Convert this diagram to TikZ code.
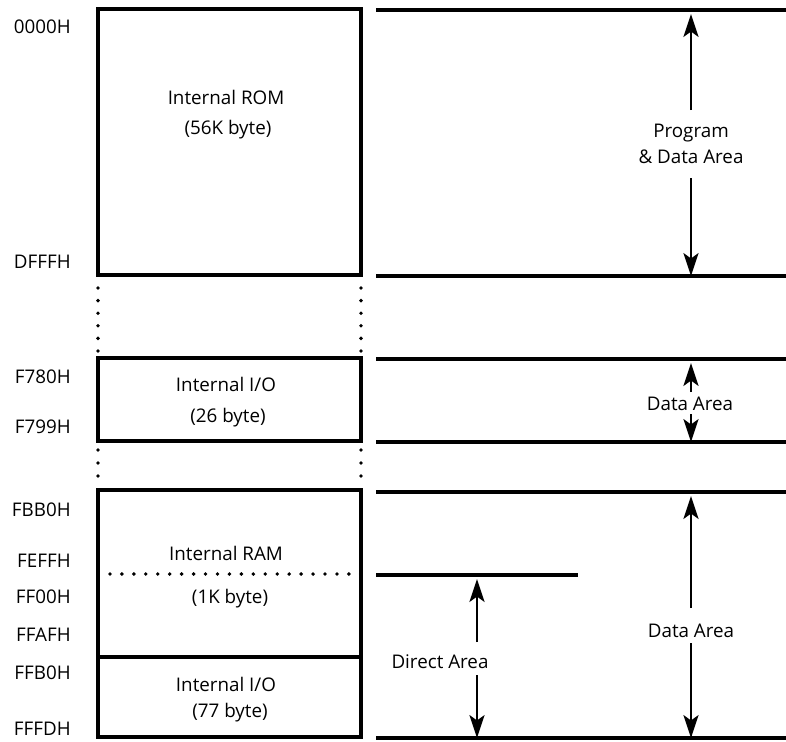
\documentclass[tikz,border=0pt]{standalone}
\usepackage{fontspec}
\setmainfont{Open Sans}
\usetikzlibrary{arrows.meta}
\begin{document}
\begin{tikzpicture}[x=0.02cm,y=-0.02cm,
  wall/.style={line width=1.8pt},
  rule/.style={line width=1.8pt},
  dotrow/.style={line width=2.2pt,line cap=round,dash pattern=on 0pt off #1},
  arr/.style={line width=1.5pt,-{Stealth[length=13pt,width=8.5pt,inset=3pt]}},
  lbl/.style={font=\fontsize{10.7}{12}\selectfont,inner sep=0pt},
  addr/.style={lbl,anchor=east},
  txt/.style={lbl,anchor=base},
]
\useasboundingbox (0,0) rectangle (786,741);

% address column
\node[addr] (a0000) at (71,27)  {0000H};
\node[addr] (adfff) at (71,262) {DFFFH};
\node[addr] (af780) at (71,377) {F780H};
\node[addr] (af799) at (71,427) {F799H};
\node[addr] (afbb0) at (71,510) {FBB0H};
\node[addr] (afeff) at (71,561) {FEFFH};
\node[addr] (aff00) at (71,597) {FF00H};
\node[addr] (affaf) at (71,635) {FFAFH};
\node[addr] (affb0) at (71,673) {FFB0H};
\node[addr] (afffd) at (71,729) {FFFDH};

% memory blocks
\draw[wall] (98,9) rectangle (361,275);
\draw[wall] (98,358) rectangle (361,441);
\draw[wall] (98,490) rectangle (361,737);
\draw[wall] (98,657) -- (361,657);
\draw[dotrow=0.239cm] (98,574) -- (361,574);

% gaps in the address space
\draw[dotrow=0.252cm] (98,288) -- (98,351);
\draw[dotrow=0.252cm] (361,288) -- (361,351);
\draw[dotrow=0.26cm] (98,450) -- (98,476);
\draw[dotrow=0.26cm] (361,450) -- (361,476);

% block contents
\node[txt] (rom1) at (226,104) {Internal ROM};
\node[txt] (rom2) at (228,134) {(56K byte)};
\node[txt] (io1)  at (226,391) {Internal I/O};
\node[txt] (io2)  at (228,422) {(26 byte)};
\node[txt] (ram1) at (226,560) {Internal RAM};
\node[txt] (ram2) at (230,603) {(1K byte)};
\node[txt] (iob1) at (226,691) {Internal I/O};
\node[txt] (iob2) at (230,717) {(77 byte)};

% area boundaries
\draw[rule] (376,10)  -- (786,10);
\draw[rule] (376,276) -- (786,276);
\draw[rule] (376,359) -- (786,359);
\draw[rule] (376,442) -- (786,442);
\draw[rule] (376,492) -- (786,492);
\draw[rule] (376,575) -- (578,575);
\draw[rule] (376,738) -- (786,738);

% area labels
\node[txt] (pd1) at (691,137) {Program};
\node[txt] (pd2) at (691,163) {\& Data Area};
\node[txt] (da1) at (690,410) {Data Area};
\node[txt] (dir) at (440,668) {Direct Area};
\node[txt] (da2) at (691,637) {Data Area};

% arrow end points
\coordinate (pdA) at (691,110);
\coordinate (pdT) at (691,14);
\coordinate (pdB) at (691,178);
\coordinate (pdE) at (691,276);
\coordinate (daA) at (691,392);
\coordinate (daT) at (691,363);
\coordinate (daB) at (691,414);
\coordinate (daE) at (691,442);
\coordinate (diA) at (477,642);
\coordinate (diT) at (477,579);
\coordinate (diB) at (477,675);
\coordinate (diE) at (477,738);
\coordinate (dbA) at (691,608);
\coordinate (dbT) at (691,496);
\coordinate (dbB) at (691,643);
\coordinate (dbE) at (691,738);

\draw[arr] (pdA) -- (pdT);
\draw[arr] (pdB) -- (pdE);
\draw[arr] (daA) -- (daT);
\draw[arr] (daB) -- (daE);
\draw[arr] (diA) -- (diT);
\draw[arr] (diB) -- (diE);
\draw[arr] (dbA) -- (dbT);
\draw[arr] (dbB) -- (dbE);
\end{tikzpicture}
\end{document}
